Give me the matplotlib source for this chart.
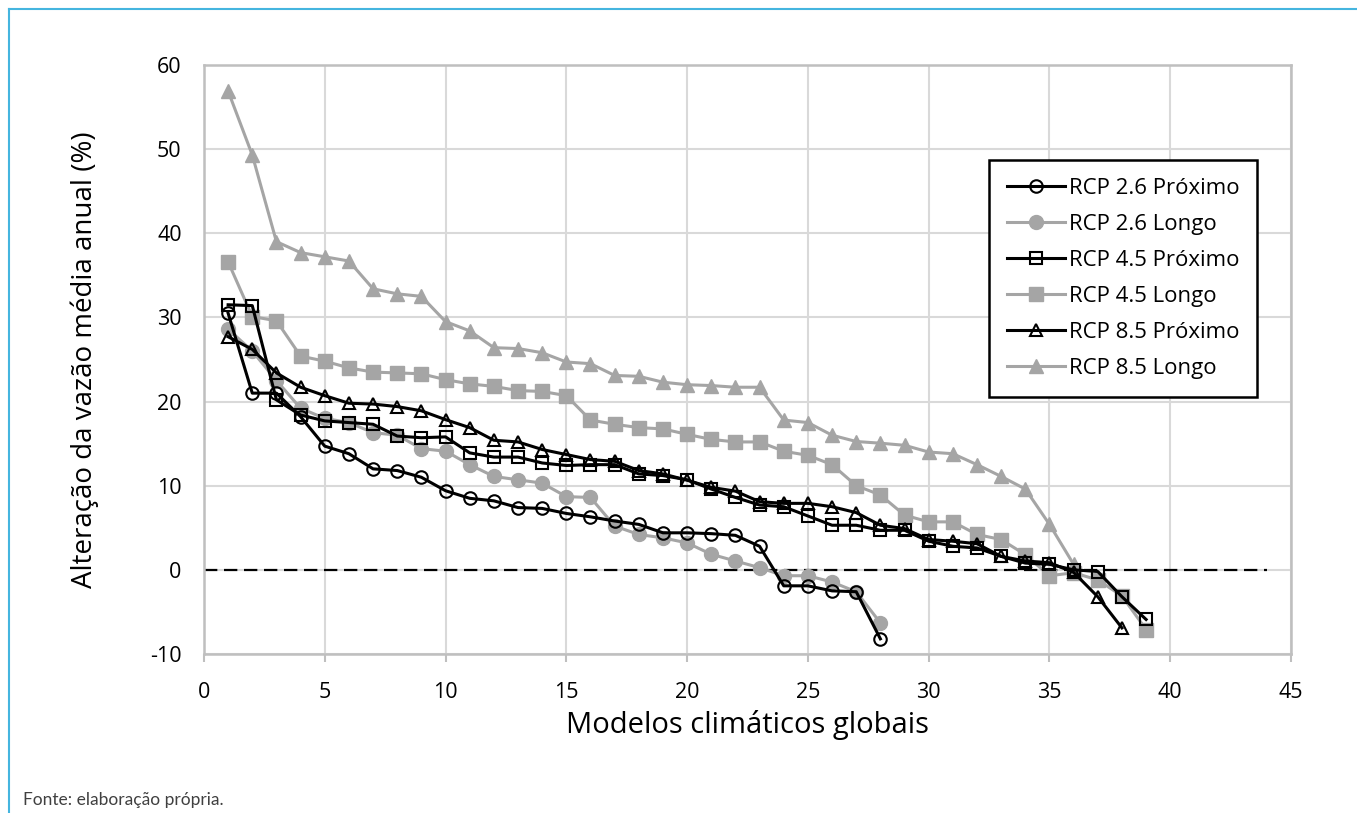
import numpy as np
import matplotlib
matplotlib.use('Agg')
from matplotlib import pyplot as plt
from matplotlib.lines import Line2D

plt.rcParams['font.family'] = ['Open Sans', 'DejaVu Sans']
plt.rcParams['axes.unicode_minus'] = False

# valores
rcp26_prox = [30.5, 21.0, 21.0, 18.2, 14.7, 13.8, 12.0, 11.8, 11.0, 9.4,
              8.5, 8.2, 7.4, 7.3, 6.7, 6.3, 5.8, 5.4, 4.4, 4.4,
              4.3, 4.1, 2.8, -1.9, -1.9, -2.5, -2.6, -8.2]
rcp26_longo = [28.6, 26.0, 22.5, 19.2, 18.0, 17.5, 16.3, 16.0, 14.4, 14.1,
               12.5, 11.1, 10.7, 10.3, 8.7, 8.6, 5.2, 4.2, 3.8, 3.2,
               1.85, 1.05, 0.26, -0.7, -0.7, -1.45, -2.6, -6.3]
rcp45_prox = [31.5, 31.4, 20.2, 18.4, 17.7, 17.5, 17.3, 15.9, 15.7, 15.8,
              13.9, 13.4, 13.4, 12.7, 12.4, 12.5, 12.5, 11.4, 11.2, 10.7,
              9.6, 8.6, 7.7, 7.5, 6.4, 5.3, 5.3, 4.7, 4.7, 3.4,
              2.8, 2.6, 1.6, 0.8, 0.65, 0.0, -0.2, -3.2, -5.9]
rcp45_longo = [36.6, 30.1, 29.6, 25.4, 24.8, 24.0, 23.5, 23.4, 23.3, 22.6,
               22.1, 21.8, 21.3, 21.2, 20.7, 17.8, 17.3, 16.9, 16.75, 16.1,
               15.5, 15.2, 15.2, 14.1, 13.6, 12.5, 10.0, 8.9, 6.5, 5.7,
               5.7, 4.2, 3.6, 1.8, -0.7, -0.35, -1.2, -3.1, -7.1]
rcp85_prox = [27.7, 26.2, 23.4, 21.7, 20.7, 19.8, 19.7, 19.4, 18.9, 17.85,
              16.9, 15.4, 15.2, 14.3, 13.7, 13.1, 12.9, 11.8, 11.4, 10.65,
              9.8, 9.35, 8.1, 7.9, 7.9, 7.5, 6.8, 5.3, 4.9, 3.6,
              3.4, 3.1, 1.6, 1.05, 0.85, -0.3, -3.2, -6.9]
rcp85_longo = [56.9, 49.3, 39.0, 37.7, 37.2, 36.7, 33.4, 32.8, 32.5, 29.5,
               28.4, 26.4, 26.3, 25.8, 24.7, 24.5, 23.1, 23.0, 22.3, 22.0,
               21.9, 21.7, 21.7, 17.8, 17.5, 16.0, 15.25, 15.05, 14.8, 14.0,
               13.8, 12.5, 11.1, 9.6, 5.4, 0.65]

gray = '#A5A5A5'
series = [
    ('RCP 2.6 Próximo', rcp26_prox, 'o', 'black'),
    ('RCP 2.6 Longo', rcp26_longo, 'o', gray),
    ('RCP 4.5 Próximo', rcp45_prox, 's', 'black'),
    ('RCP 4.5 Longo', rcp45_longo, 's', gray),
    ('RCP 8.5 Próximo', rcp85_prox, '^', 'black'),
    ('RCP 8.5 Longo', rcp85_longo, '^', gray),
]

fig = plt.figure(figsize=(13.57, 8.13), dpi=100)
ax = fig.add_axes([0.1503, 0.1956, 0.8011, 0.7245])

# linha do zero
ax.plot([0, 44], [0, 0], color='black', linestyle=(0, (6, 3)), linewidth=1.6, zorder=2)

# cinzentas primeiro, pretas por cima
order = [1, 3, 5, 0, 2, 4]
handles = {}
for i in order:
    label, vals, mk, col = series[i]
    x = np.arange(1, len(vals) + 1)
    if col == 'black':
        h, = ax.plot(x, vals, color=col, marker=mk, markersize=9,
                     markerfacecolor='none', markeredgecolor=col,
                     markeredgewidth=1.5, linewidth=2.2, label=label, zorder=4)
    else:
        h, = ax.plot(x, vals, color=col, marker=mk, markersize=10,
                     markerfacecolor=col, markeredgecolor=col,
                     linewidth=2.2, label=label, zorder=3)
    handles[i] = h

ax.set_xlim(0, 45)
ax.set_ylim(-10, 60)
ax.set_xticks(np.arange(0, 46, 5))
ax.set_yticks(np.arange(-10, 61, 10))
ax.grid(True, color='#D9D9D9', linewidth=1.5)
ax.set_axisbelow(True)
for s in ax.spines.values():
    s.set_color('#BFBFBF')
    s.set_linewidth(1.8)
ax.tick_params(axis='x', direction='out', length=6, width=1.5, color='#BFBFBF',
               labelsize=15.5, pad=14)
ax.tick_params(axis='y', length=0, labelsize=15.5, pad=16)

ax.set_xlabel('Modelos climáticos globais', fontsize=21, labelpad=5)
ax.set_ylabel('Alteração da vazão média anual (%)', fontsize=20, labelpad=37)

leg = ax.legend([handles[i] for i in range(6)], [s[0] for s in series],
                loc='upper right', bbox_to_anchor=(0.969, 0.839),
                fontsize=16, frameon=True, fancybox=False,
                handlelength=2.6, handletextpad=0.2, labelspacing=0.68,
                borderpad=0.8, borderaxespad=0.0)
leg.get_frame().set_edgecolor('black')
leg.get_frame().set_linewidth(1.8)
leg.get_frame().set_alpha(1.0)

# moldura azul
blue = '#45B5DF'
fig.add_artist(Line2D([9 / 1357, 9 / 1357], [0, 1 - 9 / 813], color=blue, linewidth=1.5,
                      transform=fig.transFigure))
fig.add_artist(Line2D([9 / 1357, 1], [1 - 9 / 813, 1 - 9 / 813], color=blue, linewidth=1.5,
                      transform=fig.transFigure))

fig.text(23 / 1357, 1 - 800 / 813, 'Fonte: elaboração própria.', fontsize=12.5,
         color='#404040', family=['Lato', 'DejaVu Sans'], va='center')

fig.savefig('out.png', dpi=100)
